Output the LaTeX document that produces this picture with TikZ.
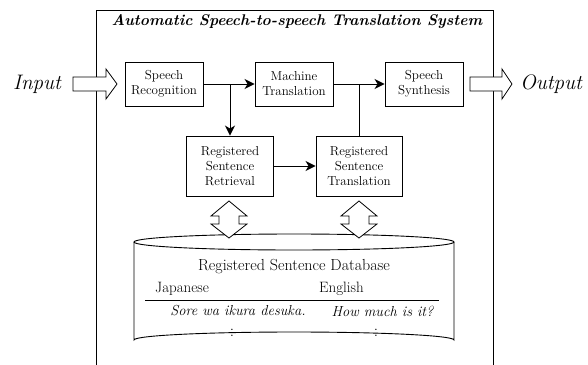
\documentclass[tikz,border=0pt]{standalone}
\usetikzlibrary{arrows.meta}
\begin{document}
\begin{tikzpicture}[x=1pt,y=-1pt,
  proc/.style={draw,line width=0.9pt,fill=white,align=center,inner sep=0pt,
    font=\fontsize{13}{15}\selectfont},
  conn/.style={line width=1pt,-{Stealth[length=10pt,width=10pt,inset=3pt]}},
  plain/.style={line width=1pt},
  fat/.style={draw,line width=0.8pt,fill=white,line join=miter},
  dbtext/.style={font=\fontsize{15}{17}\selectfont,inner sep=0pt},
  dbit/.style={font=\fontsize{14.5}{17}\selectfont\itshape,inner sep=0pt}]
\useasboundingbox (0,0) rectangle (588,364);
% frame
\draw[line width=0.9pt] (96,370) -- (96,10) -- (493,10) -- (493,370);
\node[font=\fontsize{15.5}{17}\selectfont\bfseries\itshape] (title) at (297,22) {Automatic Speech-to-speech Translation System};
% boxes
\node[proc,minimum width=78pt,minimum height=44pt] (sr) at (164,84) {Speech\\Recognition};
\node[proc,minimum width=78pt,minimum height=44pt] (mt) at (294,84) {Machine\\Translation};
\node[proc,minimum width=78pt,minimum height=44pt] (ss) at (424,84) {Speech\\Synthesis};
\node[proc,minimum width=87pt,minimum height=60pt] (rsr) at (230,166) {Registered\\Sentence\\Retrieval};
\node[proc,minimum width=86pt,minimum height=60pt] (rst) at (359,166) {Registered\\Sentence\\Translation};
\coordinate (j1) at (230,84);
\coordinate (j2) at (359,84);
\draw[conn] (sr.east) -- (mt.west);
\draw[conn] (j1) -- (rsr.north);
\draw[conn] (mt.east) -- (ss.west);
\draw[plain] (rst.north) -- (j2);
\draw[conn] (rsr.east) -- (rst.west);
% input / output
\node[font=\fontsize{21}{24}\selectfont\itshape,inner sep=0pt] (in) at (37,84) {Input};
\node[font=\fontsize{21}{24}\selectfont\itshape,inner sep=0pt] (out) at (551,84) {Output};
\draw[fat] (73,77) -- (106,77) -- (106,69) -- (117,84) -- (106,99) -- (106,91) -- (73,91) -- cycle;
\draw[fat] (470,77) -- (502,77) -- (502,69) -- (512,84) -- (502,99) -- (502,91) -- (470,91) -- cycle;
% database cylinder
\draw[line width=0.9pt,fill=white] (134,242) -- (134,340) arc[start angle=180,end angle=360,x radius=160pt,y radius=-8pt] -- (454,242);
\draw[line width=0.9pt] (294,242) ellipse[x radius=160pt,y radius=8pt];
\node[dbtext,font=\fontsize{16}{18}\selectfont] (dbt) at (294,267) {Registered Sentence Database};
\node[dbtext,anchor=west] (ja) at (155,289) {Japanese};
\node[dbtext,anchor=west] (en) at (319,289) {English};
\draw[line width=0.9pt] (145,300) -- (439,300);
\node[dbit] (s1) at (238,311) {Sore wa ikura desuka.};
\node[dbit] (s2) at (382.5,311) {How much is it?};
\node[dbtext,font=\fontsize{17}{18}\selectfont] (c1) at (232,333) {:};
\node[dbtext,font=\fontsize{17}{18}\selectfont] (c2) at (376,333) {:};
% double arrows
\foreach \cx in {229,359}{
\draw[fat] (\cx,201) -- (\cx+18,216) -- (\cx+10,216) -- (\cx+10,224) -- (\cx+18,224) -- (\cx,238) -- (\cx-18,224) -- (\cx-10,224) -- (\cx-10,216) -- (\cx-18,216) -- cycle;
}
\end{tikzpicture}
\end{document}
